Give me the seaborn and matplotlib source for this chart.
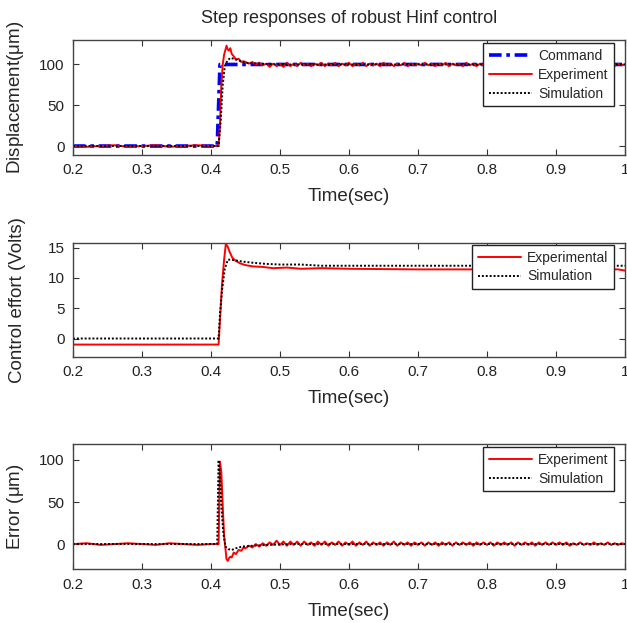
import numpy as np
import pandas as pd
import matplotlib
matplotlib.use("Agg")
import matplotlib.pyplot as plt
import seaborn as sns

# ---------------- data ----------------
# Top panel: displacement (um)
cmd_t = [0.2, 0.409, 0.411, 0.413, 1.0]
cmd_y = [0, 0, 50, 100, 100]

pre_t = [0.2, 0.22, 0.24, 0.26, 0.28, 0.30, 0.32, 0.34, 0.36, 0.38, 0.40, 0.411]
disp_exp_pre = [0, -1, 0, 1, -1, 0, 1, -1, 0, 1, 0, 0]
trans_t = [0.413, 0.415, 0.417, 0.419, 0.4225, 0.4245, 0.426, 0.428, 0.430, 0.433, 0.436, 0.440, 0.444, 0.447]
disp_exp_trans = [25, 75, 100, 112, 123, 118, 117, 120, 113, 110, 106, 107, 103, 104]
ss_t = list(np.round(np.linspace(0.45, 1.0, 111), 3))
disp_exp_ss = [103, 101, 103, 100, 102, 99, 101, 97, 101, 98,
               101, 97, 102, 98, 101, 98, 102, 99, 101, 98,
               101, 99, 102, 98, 101, 99, 102, 98, 101, 99,
               102, 98, 101, 99, 102, 98, 101, 99, 101, 98,
               102, 99, 101, 98, 101, 99, 102, 98, 101, 99,
               101, 99, 102, 99, 101, 98, 101, 99, 102, 98,
               101, 99, 101, 98, 102, 99, 101, 98, 101, 99,
               102, 99, 101, 98, 101, 99, 101, 98, 101, 99,
               101, 99, 102, 98, 101, 99, 101, 98, 101, 99,
               101, 99, 102, 98, 101, 99, 101, 98, 101, 99,
               101, 99, 101, 98, 101, 99, 101, 98, 101, 99,
               100]
disp_sim_t = [0.2, 0.411, 0.414, 0.417, 0.420, 0.424, 0.428, 0.433, 0.440, 0.450, 0.470, 0.500, 1.0]
disp_sim_y = [0, 0, 30, 75, 98, 105, 108, 107, 105, 102, 101, 100, 100]

# Middle panel: control effort (Volts)
u_exp_t = [0.2, 0.411, 0.413, 0.416, 0.419, 0.4215, 0.424, 0.427, 0.431, 0.436, 0.442, 0.450, 0.460,
           0.475, 0.490, 0.510, 0.530, 0.560, 0.600, 0.700, 0.800, 0.900, 0.990, 1.0]
u_exp_y = [-1.0, -1.0, 3, 9, 13, 15.6, 15.2, 14.3, 13.3, 12.8, 12.4, 12.1, 11.9,
           11.8, 11.6, 11.7, 11.5, 11.6, 11.5, 11.4, 11.4, 11.4, 11.4, 11.2]
u_sim_t = [0.2, 0.411, 0.413, 0.416, 0.420, 0.4245, 0.428, 0.435, 0.445, 0.460, 0.480, 0.500, 0.530, 0.560, 1.0]
u_sim_y = [0, 0, 4, 8, 11.5, 13.0, 13.0, 12.9, 12.7, 12.5, 12.3, 12.2, 12.2, 12.0, 12.0]

# Bottom panel: error (um)
err_exp_pre = [0, 1, -1, 0, 1, 0, -1, 1, 0, -1, 0, 0]
err_exp_trans = [98, 85, 45, 10, -18, -20, -17, -15, -16, -10, -12, -7, -8, -4]
err_exp_ss = [-5, -2, -4, 0, -3, 1, -2, 2, -1, 4,
              -1, 3, -2, 3, -1, 3, -2, 3, -1, 2,
              -2, 3, -1, 3, -2, 2, -1, 3, -2, 2,
              -1, 3, -2, 2, -1, 3, -2, 2, -1, 2,
              -2, 2, -1, 3, -2, 2, -1, 2, -2, 2,
              -1, 2, -2, 2, -1, 2, -2, 2, -1, 2,
              -2, 2, -1, 2, -1, 2, -2, 2, -1, 2,
              -1, 2, -2, 2, -1, 2, -1, 2, -2, 2,
              -1, 2, -1, 2, -2, 2, -1, 2, -1, 2,
              -1, 2, -1, 2, -2, 1, -1, 2, -1, 1,
              -1, 2, -1, 1, -1, 2, -1, 1, -1, 1,
              0]
err_sim_t = [0.2, 0.409, 0.411, 0.413, 0.415, 0.418, 0.421, 0.425, 0.430, 0.436, 0.445, 0.460, 0.480, 0.520, 1.0]
err_sim_y = [0, 0, 100, 80, 45, 12, -3, -6, -7, -5, -3, -2, -1, 0, 0]

# --------------- plotting ---------------
sns.set_style("ticks")
plt.rcParams['font.family'] = ['Liberation Sans', 'DejaVu Sans']
plt.rcParams['mathtext.fontset'] = 'custom'
plt.rcParams['mathtext.rm'] = 'Liberation Sans'
plt.rcParams['mathtext.it'] = 'Liberation Sans'

fig = plt.figure(figsize=(6.27, 6.23), dpi=100)
W, H = 627, 623
def add_ax(top, bottom, left=73, right=625):
    return fig.add_axes([left / W, 1 - bottom / H, (right - left) / W, (bottom - top) / H])

ax1 = add_ax(40, 155)
ax2 = add_ax(242.7, 356.7)
ax3 = add_ax(444, 569.3)

RED = "#ff0000"
dot = (0, (1, 1))

t_exp = pre_t + trans_t + ss_t
df1 = pd.DataFrame({"t": t_exp, "y": disp_exp_pre + disp_exp_trans + disp_exp_ss})
sns.lineplot(x=cmd_t, y=cmd_y, ax=ax1, color="#0000ff", lw=2.6, linestyle=(0, (3.5, 1.3, 1.0, 1.3)),
             label="Command", estimator=None, sort=False)
sns.lineplot(data=df1, x="t", y="y", ax=ax1, color=RED, lw=1.4, label="Experiment",
             estimator=None, sort=False)
sns.lineplot(x=disp_sim_t, y=disp_sim_y, ax=ax1, color="black", lw=1.4, linestyle=dot,
             label="Simulation", estimator=None, sort=False)
ax1.set_ylim(-11, 130)
ax1.set_yticks([0, 50, 100])
ax1.set_ylabel(r"Displacement($\mu$m)")

sns.lineplot(x=u_exp_t, y=u_exp_y, ax=ax2, color=RED, lw=1.4, label="Experimental",
             estimator=None, sort=False)
sns.lineplot(x=u_sim_t, y=u_sim_y, ax=ax2, color="black", lw=1.4, linestyle=dot,
             label="Simulation", estimator=None, sort=False)
ax2.set_ylim(-3.0, 15.8)
ax2.set_yticks([0, 5, 10, 15])
ax2.set_ylabel("Control effort (Volts)")

df3 = pd.DataFrame({"t": t_exp, "y": err_exp_pre + err_exp_trans + err_exp_ss})
sns.lineplot(data=df3, x="t", y="y", ax=ax3, color=RED, lw=1.4, label="Experiment",
             estimator=None, sort=False)
sns.lineplot(x=err_sim_t, y=err_sim_y, ax=ax3, color="black", lw=1.4, linestyle=dot,
             label="Simulation", estimator=None, sort=False)
ax3.set_ylim(-30, 119)
ax3.set_yticks([0, 50, 100])
ax3.set_ylabel(r"Error ($\mu$m)")

anchors = {ax1: (0.980, 0.971), ax2: (0.980, 0.980), ax3: (0.980, 0.974)}
for ax in (ax1, ax2, ax3):
    ax.set_xlim(0.2, 1.0)
    ax.set_xticks([0.2, 0.3, 0.4, 0.5, 0.6, 0.7, 0.8, 0.9, 1.0])
    ax.set_xticklabels(["0.2", "0.3", "0.4", "0.5", "0.6", "0.7", "0.8", "0.9", "1"])
    ax.set_xlabel("Time(sec)", fontsize=13.5, labelpad=8)
    ax.yaxis.label.set_size(13.5)
    ax.yaxis.set_label_coords(-0.085, 0.5)
    ax.tick_params(direction="in", top=True, right=True, length=4, labelsize=11,
                   color="#333333", labelcolor="#222222", pad=6)
    for s in ax.spines.values():
        s.set_color("#444444")
        s.set_linewidth(1.0)
    leg = ax.legend(loc="upper right", bbox_to_anchor=anchors[ax], borderaxespad=0,
                    fontsize=10, handlelength=3.1, frameon=True,
                    fancybox=False, edgecolor="#222222", framealpha=1,
                    labelspacing=0.35, handletextpad=0.45, borderpad=0.4)
    leg.get_frame().set_linewidth(1.0)

ax1.set_title("Step responses of robust Hinf control", fontsize=13, pad=12)

fig.savefig("out.png", dpi=100)
